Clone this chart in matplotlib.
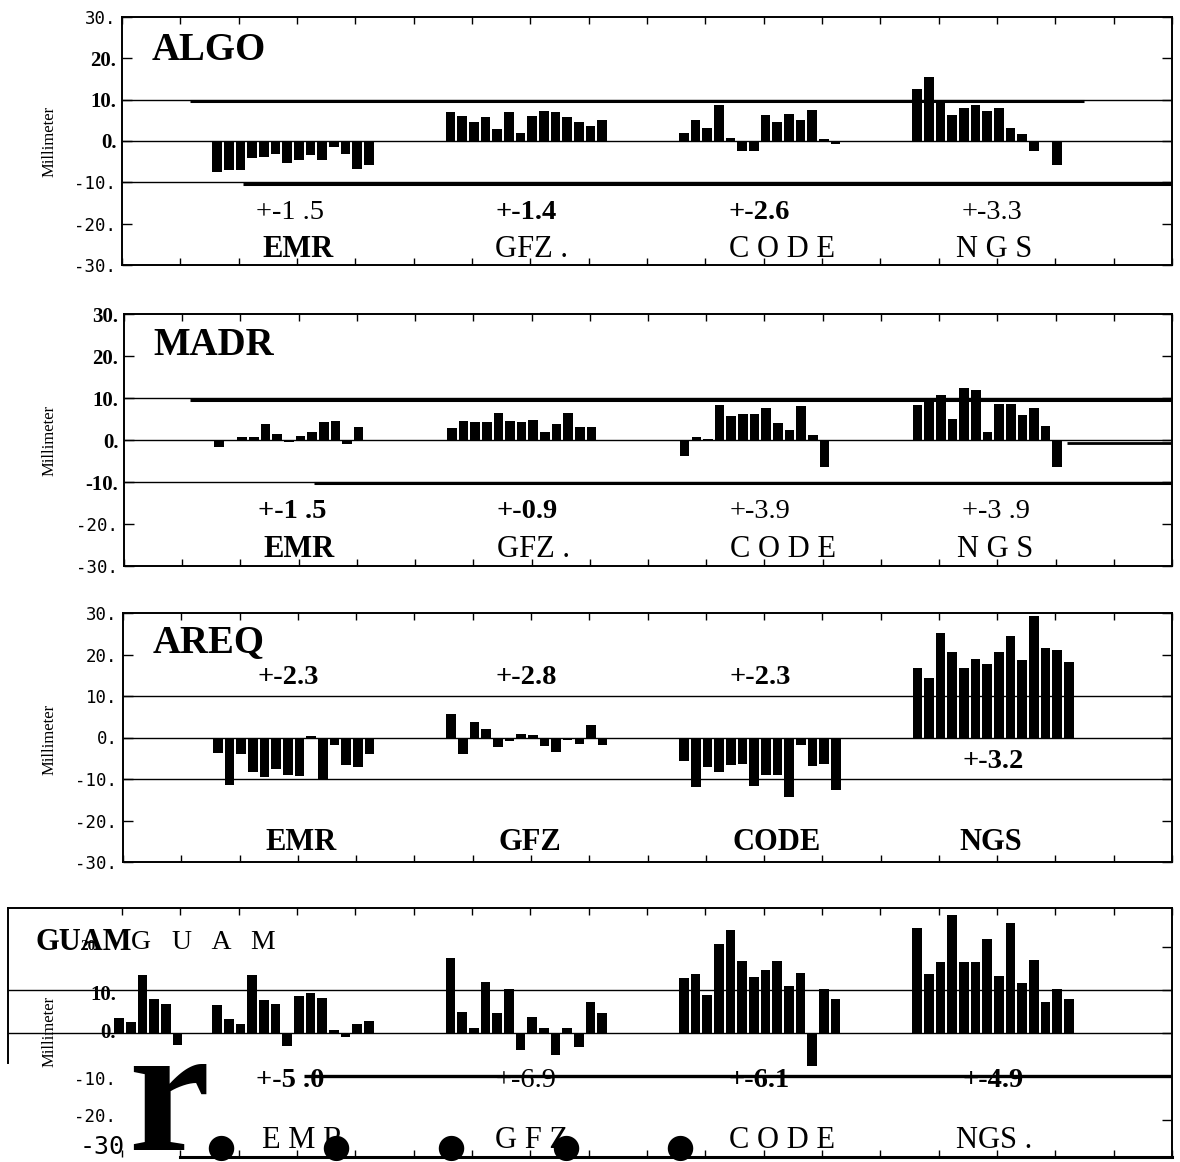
import numpy as np
import matplotlib.pyplot as plt

W, H = 1180, 1162
SERIF = "Liberation Serif"
MONO = "DejaVu Sans Mono"

# ---- data (millimeter) ----
centers = ["EMR", "GFZ", "CODE", "NGS"]

algo_emr = [-7.5, -6.9, -7.1, -4.2, -3.9, -3.2, -5.3, -4.5, -3.4, -4.5, -1.5, -3.2, -6.7, -5.7]
algo_gfz = [6.9, 6.1, 4.7, 5.7, 2.8, 6.9, 2.0, 6.0, 7.3, 6.9, 5.7, 4.5, 3.6, 5.1]
algo_code = [1.9, 5.1, 3.2, 8.7, 0.8, -2.5, -2.5, 6.4, 4.5, 6.6, 5.2, 7.5, 0.5, -0.8]
algo_ngs = [12.5, 15.5, 9.2, 6.4, 7.9, 8.7, 7.2, 8.1, 3.1, 1.7, -2.3, 0.0, -5.9]
algo_sig = ["+-1 .5", "+-1.4", "+-2.6", "+-3.3"]

madr_emr = [-1.6, 0.0, 0.8, 0.6, 3.8, 1.4, -0.4, 1.0, 1.8, 4.2, 4.6, -1.0, 3.0]
madr_gfz = [2.8, 4.6, 4.2, 4.4, 6.4, 4.6, 4.4, 4.8, 1.8, 3.8, 6.4, 3.0, 3.0]
madr_code = [-3.8, 0.8, 0.2, 8.4, 5.7, 6.2, 6.1, 7.7, 4.1, 2.3, 8.1, 1.1, -6.5]
madr_ngs = [8.4, 10.0, 10.6, 5.0, 12.4, 11.8, 2.0, 8.5, 8.5, 5.9, 7.6, 3.3, -6.5]
madr_sig = ["+-1 .5", "+-0.9", "+-3.9", "+-3 .9"]

areq_emr = [-3.7, -11.4, -3.9, -8.4, -9.4, -7.6, -9.1, -9.2, 0.4, -10.0, -1.7, -6.7, -7.1, -3.9]
areq_gfz = [5.7, -3.9, 3.7, 2.0, -2.4, -0.8, 0.9, 0.6, -2.1, -3.5, -0.6, -1.6, 3.1, -1.8]
areq_code = [-5.7, -12.0, -7.1, -8.3, -6.7, -6.5, -11.8, -9.0, -9.0, -14.4, -1.8, -6.9, -6.3, -12.6]
areq_ngs = [16.7, 14.3, 25.2, 20.6, 16.7, 18.9, 17.7, 20.6, 24.4, 18.7, 29.3, 21.5, 21.1, 18.3]
areq_sig = ["+-2.3", "+-2.8", "+-2.3", "+-3.2"]

guam_emr = [6.5, 3.2, 2.2, 13.5, 7.7, 6.7, -2.9, 8.5, 9.2, 8.2, 0.8, -0.9, 2.2, 2.9]
guam_gfz = [17.3, 4.8, 1.2, 11.9, 4.6, 10.2, -3.8, 3.7, 1.3, -5.0, 1.2, -3.3, 7.2, 4.6]
guam_code = [12.7, 13.6, 8.8, 20.5, 23.8, 16.7, 12.9, 14.5, 16.7, 10.8, 13.8, -7.5, 10.2, 7.9]
guam_ngs = [24.2, 13.6, 16.4, 27.3, 16.5, 16.4, 21.8, 13.3, 25.5, 11.5, 16.9, 7.2, 10.2, 7.8]
guam_sig = ["+-5 .0", "+-6.9", "+-6.1", "+-4.9"]
# stray bars of the shifted copy at the left of the GUAM panel
guam_stray = [3.5, 2.5, 13.5, 8.0, 6.8, -2.8]

ytick_vals = [-30, -20, -10, 0, 10, 20, 30]
ytick_text = ["-30.", "-20.", "-10.", "0.", "10.", "20.", "30."]

fig = plt.figure(figsize=(W / 100, H / 100), dpi=100)


def rect(l, t, r, b):
    return [l / W, 1 - b / H, (r - l) / W, (b - t) / H]


def setup(ax, xlim=(0, 18), ylim=(-30, 30)):
    ax.set_xlim(*xlim)
    ax.set_ylim(*ylim)
    ax.set_xticks(np.arange(0, 19))
    ax.set_xticklabels([])
    ax.tick_params(axis="x", direction="in", top=True, bottom=True, length=5, width=1)
    ax.tick_params(axis="y", direction="in", left=True, right=True, length=7, width=1, pad=4)
    for sp in ax.spines.values():
        sp.set_linewidth(1.4)
    for v in (10, 0, -10):
        ax.axhline(v, color="black", lw=1.0, zorder=1)


def yticks(ax, serif_vals):
    ax.set_yticks(ytick_vals)
    ax.set_yticklabels(ytick_text)
    for v, lab in zip(ytick_vals, ax.get_yticklabels()):
        if v in serif_vals:
            lab.set_fontfamily(SERIF)
            lab.set_fontweight("bold")
            lab.set_fontsize(15)
        else:
            lab.set_fontfamily(MONO)
            lab.set_fontsize(12.5)


def bars(ax, series, step=0.2, width=0.165):
    for k, vals in enumerate(series):
        xs = 1.63 + 4 * k + step * np.arange(len(vals))
        ax.bar(xs, vals, width=width, color="black", linewidth=0, zorder=2)


def put(ax, x, y, s, size, bold=False, ha="left", family=SERIF):
    ax.text(x, y, s, fontsize=size, family=family, fontweight="bold" if bold else "normal",
            ha=ha, va="center", zorder=3)


sig_x = [2.3, 6.4, 10.4, 14.4]
lab_x = [2.4, 6.4, 10.4, 14.3]
SIG, LAB, TTL = 20.5, 22, 28

# ---------------- ALGO ----------------
ax1 = fig.add_axes(rect(122, 17, 1172, 265))
setup(ax1)
yticks(ax1, (20, 10, 0))
ax1.hlines(9.7, 1.17, 16.5, color="black", lw=2.2)
ax1.hlines(-10.5, 2.08, 18, color="black", lw=2.2)
bars(ax1, [algo_emr, algo_gfz, algo_code, algo_ngs])
put(ax1, 0.5, 22, "ALGO", TTL, True)
for x, s, b in zip(sig_x, algo_sig, [False, True, True, False]):
    put(ax1, x, -17.4, s, SIG, b)
for x, s, b in zip(lab_x, ["EMR", "GFZ .", "C O D E", "N G S"], [True, False, False, False]):
    put(ax1, x, -26.3, s, LAB, b)

# ---------------- MADR ----------------
ax2 = fig.add_axes(rect(124, 314, 1172, 566))
setup(ax2)
yticks(ax2, (30, 20, 10, 0, -10))
ax2.hlines(9.6, 1.13, 18, color="black", lw=2.2)
ax2.hlines(-10.3, 3.26, 18, color="black", lw=2.2)
ax2.hlines(-0.6, 16.2, 18, color="black", lw=2.0)
bars(ax2, [madr_emr, madr_gfz, madr_code, madr_ngs])
put(ax2, 0.5, 22.4, "MADR", TTL, True)
for x, s, b in zip(sig_x, madr_sig, [True, True, False, False]):
    put(ax2, x, -17.1, s, SIG, b)
for x, s, b in zip(lab_x, ["EMR", "GFZ .", "C O D E", "N G S"], [True, False, False, False]):
    put(ax2, x, -26.0, s, LAB, b)

# ---------------- AREQ ----------------
ax3 = fig.add_axes(rect(123, 613, 1172, 862))
setup(ax3)
yticks(ax3, ())
bars(ax3, [areq_emr, areq_gfz, areq_code, areq_ngs])
put(ax3, 0.5, 22.8, "AREQ", TTL, True)
for x, s in zip(sig_x[:3], areq_sig[:3]):
    put(ax3, x, 14.5, s, SIG, True)
put(ax3, sig_x[3], -5.8, areq_sig[3], SIG, True)
for x, s in zip(lab_x, ["EMR", "GFZ", "CODE", "NGS"]):
    put(ax3, x + 0.05, -25.2, s, LAB, True)

# ---------------- GUAM ----------------
ax4 = fig.add_axes(rect(8, 908, 1172, 1157))
setup(ax4, xlim=(-1.955, 18), ylim=(-28.6, 28.9))
ax4.set_yticks([-20, -10, 0, 10, 20])
ax4.set_yticklabels([])
ax4.tick_params(axis="y", left=False)
ax4.spines["left"].set_bounds(-6.9, 28.9)
ax4.spines["bottom"].set_bounds(1.0, 18)
ax4.spines["bottom"].set_linewidth(2.2)
ax4.lines[-1].remove()
ax4.hlines(-10, 3.12, 18, color="black", lw=2.4)
bars(ax4, [guam_emr, guam_gfz, guam_code, guam_ngs])
ax4.bar(-0.05 + 0.2 * np.arange(len(guam_stray)), guam_stray, width=0.165,
        color="black", linewidth=0, zorder=2)
put(ax4, -1.49, 21.0, "GUAM", 22, True)
put(ax4, 0.15, 21.0, "G   U   A   M", 20)
put(ax4, -0.55, 20.0, "20.", 11, True, ha="center")
put(ax4, -0.1, 8.8, "10.", 15, True, ha="right")
put(ax4, -0.1, 0.0, "0.", 15, True, ha="right")
put(ax4, -0.1, -10.9, "-10.", 12.5, ha="right", family=MONO)
put(ax4, -0.1, -19.4, "-20.", 12.5, ha="right", family=MONO)
put(ax4, 0.05, -26.3, "-30", 18, ha="right", family=MONO)
for x, s, b in zip(sig_x, guam_sig, [True, False, True, True]):
    put(ax4, x, -10.9, s, SIG, b)
for x, s in zip(lab_x, ["E M R", "G F Z", "C O D E", "NGS ."]):
    put(ax4, x, -24.7, s, LAB)
# scan blots over the bottom of the GUAM panel
ax4.text(0.1, -27.0, "r", fontsize=132, family=SERIF, fontweight="bold", ha="left", va="baseline")
blot_x = [1.70, 3.67, 5.64, 7.60, 9.57]
for x in blot_x:
    ax4.text(x, -26.3, "\u25cf", fontsize=24, family="DejaVu Sans", ha="center", va="center")

# axis titles
for yc in (141, 440, 739, 1031):
    fig.text(50 / W, 1 - yc / H, "Millimeter", rotation=90, ha="center", va="center",
             fontsize=12, family=SERIF)

fig.savefig("out.png", dpi=100)
